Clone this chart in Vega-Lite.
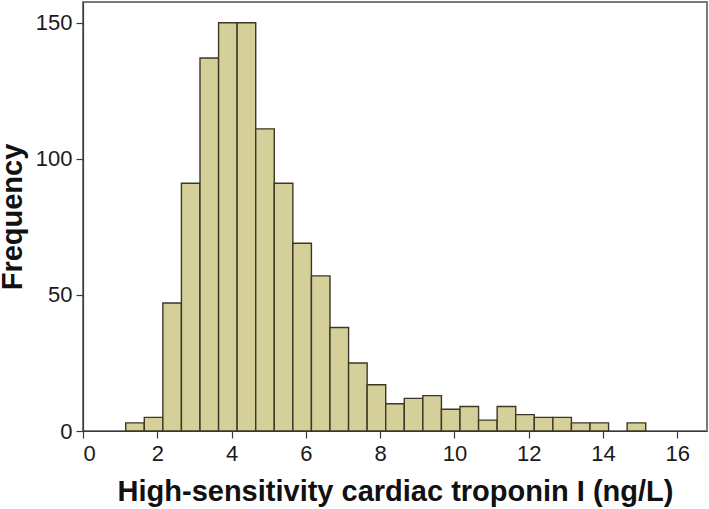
{
  "$schema": "https://vega.github.io/schema/vega-lite/v6.json",
  "width": 624,
  "height": 429,
  "autosize": {"type": "none"},
  "padding": {"left": 83, "top": 2, "right": 2, "bottom": 78},
  "background": "white",
  "config": {
    "view": {"stroke": "#7a7a7a", "strokeWidth": 2},
    "axis": {"grid": false, "labelFont": "Liberation Sans", "titleFont": "Liberation Sans", "labelColor": "#1a1a1a", "titleColor": "#111111", "domainColor": "#3a3a3a", "tickColor": "#3a3a3a", "domainWidth": 1.2, "tickWidth": 1.2, "tickSize": 7}
  },
  "data": {
    "values": [
      {"lo": 1.15, "hi": 1.65, "count": 3},
      {"lo": 1.65, "hi": 2.15, "count": 5},
      {"lo": 2.15, "hi": 2.65, "count": 47},
      {"lo": 2.65, "hi": 3.15, "count": 91},
      {"lo": 3.15, "hi": 3.65, "count": 137},
      {"lo": 3.65, "hi": 4.15, "count": 150},
      {"lo": 4.15, "hi": 4.65, "count": 150},
      {"lo": 4.65, "hi": 5.15, "count": 111},
      {"lo": 5.15, "hi": 5.65, "count": 91},
      {"lo": 5.65, "hi": 6.15, "count": 69},
      {"lo": 6.15, "hi": 6.65, "count": 57},
      {"lo": 6.65, "hi": 7.15, "count": 38},
      {"lo": 7.15, "hi": 7.65, "count": 25},
      {"lo": 7.65, "hi": 8.15, "count": 17},
      {"lo": 8.15, "hi": 8.65, "count": 10},
      {"lo": 8.65, "hi": 9.15, "count": 12},
      {"lo": 9.15, "hi": 9.65, "count": 13},
      {"lo": 9.65, "hi": 10.15, "count": 8},
      {"lo": 10.15, "hi": 10.65, "count": 9},
      {"lo": 10.65, "hi": 11.15, "count": 4},
      {"lo": 11.15, "hi": 11.65, "count": 9},
      {"lo": 11.65, "hi": 12.15, "count": 6},
      {"lo": 12.15, "hi": 12.65, "count": 5},
      {"lo": 12.65, "hi": 13.15, "count": 5},
      {"lo": 13.15, "hi": 13.65, "count": 3},
      {"lo": 13.65, "hi": 14.15, "count": 3},
      {"lo": 14.65, "hi": 15.15, "count": 3}
    ]
  },
  "mark": {"type": "bar", "fill": "#d5cf9a", "stroke": "#3b3826", "strokeWidth": 1.4},
  "encoding": {
    "x": {
      "field": "lo", "type": "quantitative",
      "scale": {"domain": [0, 16.8], "nice": false, "zero": false},
      "axis": {"values": [0, 2, 4, 6, 8, 10, 12, 14, 16], "labelFontSize": 22, "labelPadding": 5, "title": "High-sensitivity cardiac troponin I (ng/L)", "titleFontSize": 29, "titleFontWeight": "bold", "titlePadding": 13}
    },
    "x2": {"field": "hi"},
    "y": {
      "field": "count", "type": "quantitative",
      "scale": {"domain": [0, 157.6], "nice": false},
      "axis": {"values": [0, 50, 100, 150], "labelFontSize": 22, "labelPadding": 4, "title": "Frequency", "titleFontSize": 29, "titleFontWeight": "bold", "titleX": -56}
    },
    "y2": {"datum": 0}
  }
}
